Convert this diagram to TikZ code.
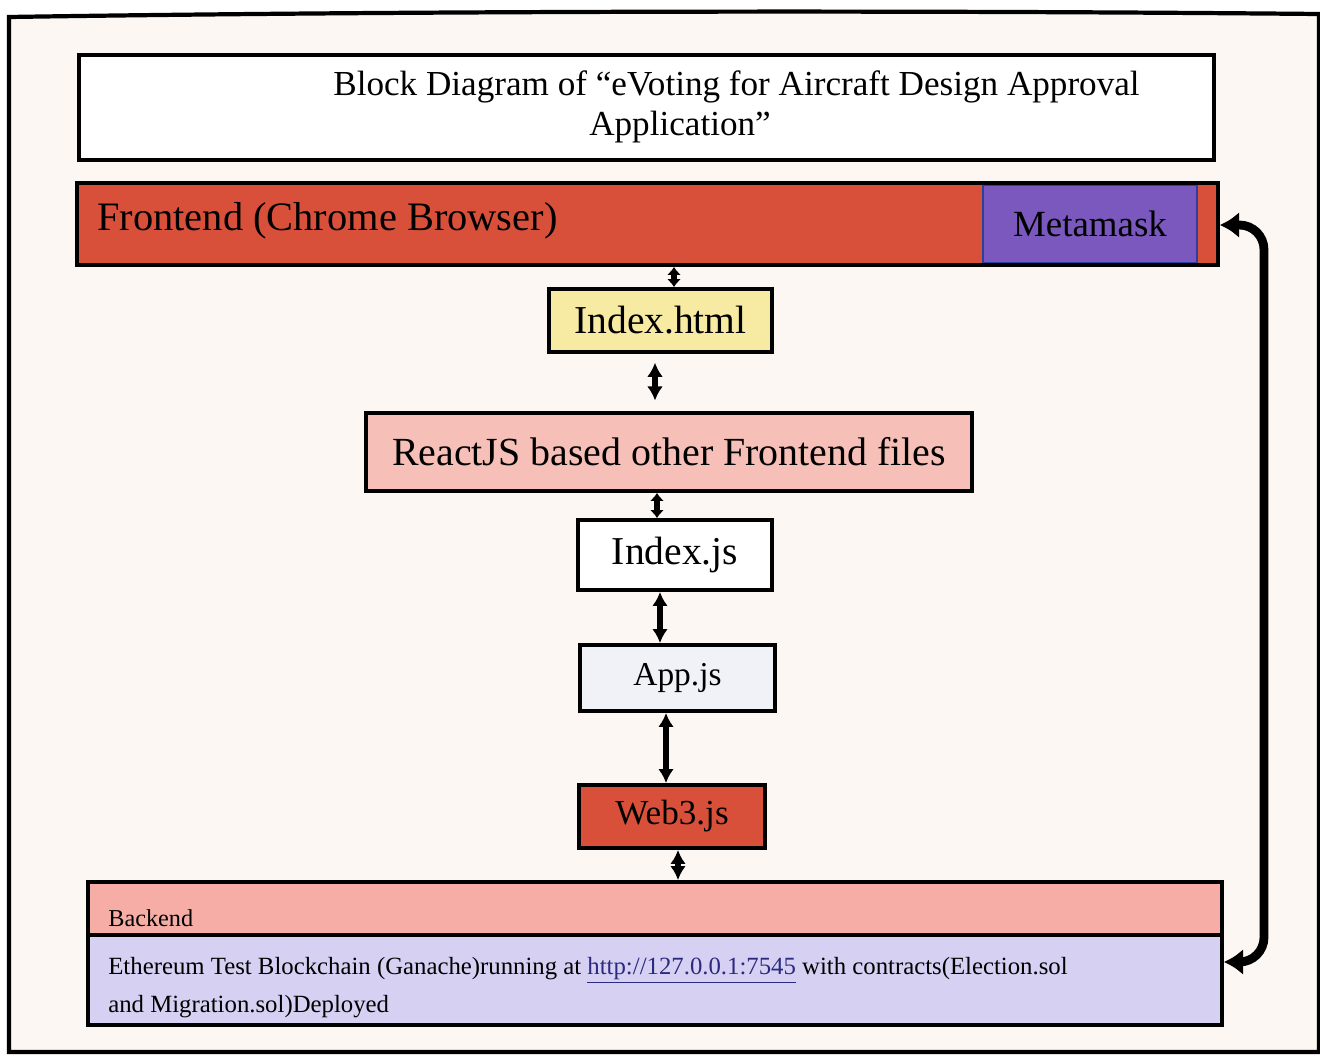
\documentclass[tikz,border=0pt]{standalone}
\usepackage{fontspec}
\setmainfont{Liberation Serif}
\usetikzlibrary{arrows.meta}
\definecolor{pagebg}{HTML}{FCF7F2}
\definecolor{fered}{HTML}{D9503A}
\definecolor{mmpurple}{HTML}{7A58BE}
\definecolor{mmblue}{HTML}{2A3FA0}
\definecolor{hyellow}{HTML}{F7EAA2}
\definecolor{rpink}{HTML}{F6BFB8}
\definecolor{appbg}{HTML}{F1F2F8}
\definecolor{bepink}{HTML}{F5ADA6}
\definecolor{ethlav}{HTML}{D6D0F2}
\definecolor{urlblue}{HTML}{2A2A80}
\newcommand{\fs}[1]{\fontsize{#1}{1.2\dimexpr #1pt\relax}\selectfont}
\tikzset{
  blk/.style={draw=black, line width=2.2pt, inner sep=0pt, align=center},
  dbl/.style={line width=3.2pt, {Latex[length=8pt,width=9pt]}-{Latex[length=8pt,width=9pt]}},
  sdbl/.style={line width=3pt, {Latex[length=4.5pt,width=8pt]}-{Latex[length=4.5pt,width=8pt]}},
  fb/.style={line width=5pt, rounded corners=14pt, {Latex[length=11pt,width=15pt]}-{Latex[length=11pt,width=15pt]}}
}
\begin{document}
\begin{tikzpicture}[x=0.02cm, y=-0.02cm]
\useasboundingbox (0,0) rectangle (1320,1058);
\fill[white] (0,0) rectangle (1320,1058);
% outer frame
\draw[line width=2.4pt, fill=pagebg] (9,17) .. controls (400,11) and (900,10) .. (1319,14) -- (1319,1052) -- (9,1052) -- cycle;

% title
\node[blk, fill=white, minimum width=22.7cm, minimum height=2.1cm] (title) at (646.5,107.5) {};
\node[anchor=west, inner sep=0pt] (t1) at (333,87) {\fs{20}Block Diagram of “eVoting for Aircraft Design Approval};
\node[inner sep=0pt] (t2) at (680,127) {\fs{20}Application”};

% frontend bar
\node[blk, fill=fered, minimum width=22.82cm, minimum height=1.64cm] (fe) at (647.5,224) {};
\node[draw=mmblue, line width=1pt, fill=mmpurple, minimum width=4.28cm, minimum height=1.54cm, inner sep=0pt] (mm) at (1090,224) {\fs{21}Metamask};
\node[anchor=west, inner sep=0pt] (fetext) at (97,221) {\fs{23}Frontend (Chrome Browser)};

% stack
\node[blk, fill=hyellow, minimum width=4.46cm, minimum height=1.26cm] (ih) at (660.5,320.5) {\fs{22.5}Index.html};
\node[blk, fill=rpink, minimum width=12.12cm, minimum height=1.56cm] (rj) at (669,452) {\fs{22.7}ReactJS based other Frontend files};
\node[blk, fill=white, minimum width=3.88cm, minimum height=1.4cm] (ij) at (675,555) {\fs{22.5}Index.js};
\node[blk, fill=appbg, minimum width=3.9cm, minimum height=1.32cm] (aj) at (677.5,678) {\fs{19}App.js};
\node[blk, fill=fered, minimum width=3.72cm, minimum height=1.26cm] (w3) at (672,816.5) {\fs{20}Web3.js};

% backend
\node[blk, fill=bepink, minimum width=22.68cm, minimum height=1.06cm] (be) at (655,908.5) {};
\node[anchor=west, inner sep=0pt] (betext) at (108,918) {\fs{13.8}Backend};
\node[blk, fill=ethlav, minimum width=22.68cm, minimum height=1.8cm] (eth) at (655,980) {};
\node[anchor=north west, inner sep=0pt, align=left] (ethtext) at (108,957) {\fs{14.1}Ethereum Test Blockchain (Ganache)running at \textcolor{urlblue}{\underline{http://127.0.0.1:7545}} with contracts(Election.sol\\[6pt]\fs{14.1}and Migration.sol)Deployed};

% connectors
\coordinate (x1) at (674,0);
\coordinate (x2) at (655,0);
\coordinate (x3) at (657,0);
\coordinate (x4) at (660,0);
\coordinate (x5) at (666,0);
\coordinate (x6) at (678,0);
\draw[sdbl] (x1 |- fe.south) -- (x1 |- ih.north);
\draw[dbl, shorten <=5pt, shorten >=6pt] (x2 |- ih.south) -- (x2 |- rj.north);
\draw[sdbl] (x3 |- rj.south) -- (x3 |- ij.north);
\draw[dbl] (x4 |- ij.south) -- (x4 |- aj.north);
\draw[dbl] (x5 |- aj.south) -- (x5 |- w3.north);
\draw[dbl] (x6 |- w3.south) -- (x6 |- be.north);

\coordinate (fbx) at (1264,0);
\draw[fb] (eth.east |- 0,962) -- (fbx |- 0,962) -- (fbx |- 0,225) -- (fe.east |- 0,225);
\end{tikzpicture}
\end{document}
